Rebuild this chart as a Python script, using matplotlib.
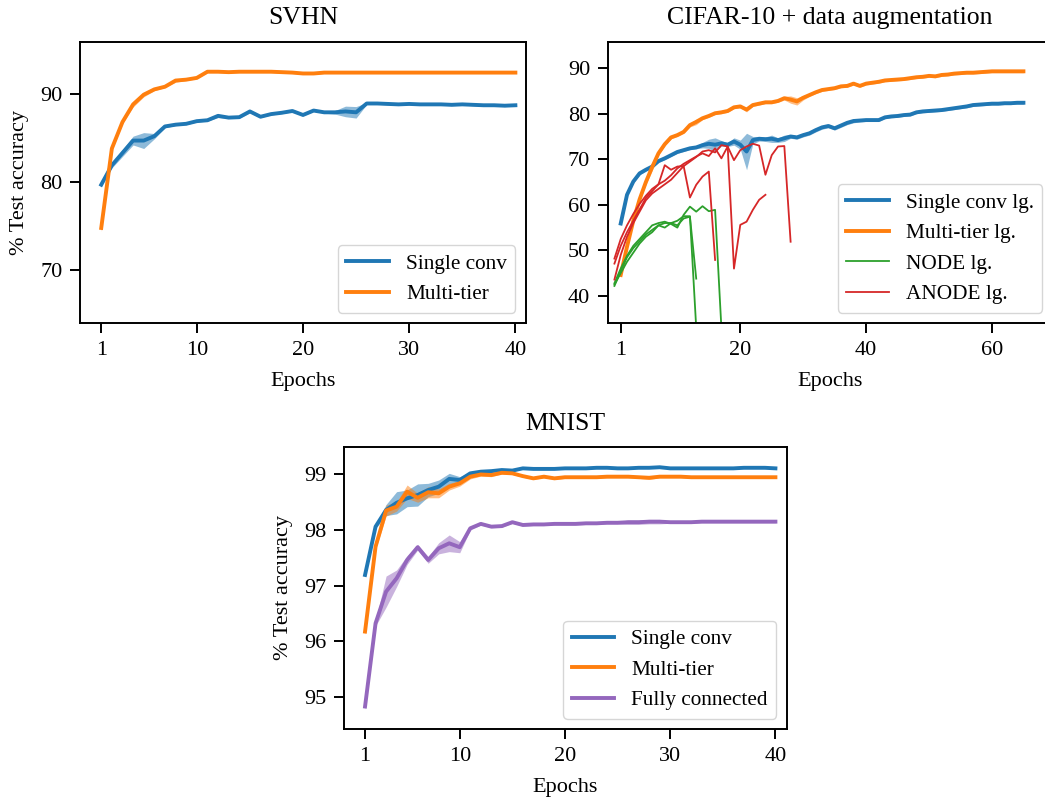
import matplotlib
matplotlib.use("Agg")
import matplotlib.pyplot as plt
import numpy as np

plt.rcParams['font.family'] = ['Liberation Serif', 'DejaVu Serif']
plt.rcParams['font.size'] = 15

# ---------------- data ----------------
svhn_epochs = list(range(1, 41))
svhn_single = [79.7, 81.9, 83.3, 84.7, 84.7, 85.2, 86.3, 86.5, 86.6, 86.9,
               87.0, 87.5, 87.3, 87.35, 88.0, 87.4, 87.7, 87.85, 88.05, 87.6,
               88.1, 87.9, 87.9, 88.0, 87.9, 88.9, 88.9, 88.85, 88.8, 88.85,
               88.8, 88.8, 88.8, 88.75, 88.8, 88.75, 88.7, 88.7, 88.65, 88.7]
svhn_single_std = [0.15, 0.3, 0.4, 0.5, 0.9, 0.3, 0.15, 0.1, 0.1, 0.1,
                   0.1, 0.2, 0.1, 0.1, 0.15, 0.1, 0.1, 0.1, 0.1, 0.1,
                   0.1, 0.1, 0.2, 0.6, 0.65, 0.1, 0.1, 0.1, 0.1, 0.1,
                   0.1, 0.1, 0.1, 0.1, 0.1, 0.1, 0.1, 0.1, 0.1, 0.1]
svhn_multi = [74.8, 83.8, 86.8, 88.8, 89.9, 90.5, 90.8, 91.5, 91.6, 91.8,
              92.5, 92.5, 92.45, 92.5, 92.5, 92.5, 92.5, 92.45, 92.4, 92.3,
              92.3, 92.4, 92.4, 92.4, 92.4, 92.4, 92.4, 92.4, 92.4, 92.4,
              92.4, 92.4, 92.4, 92.4, 92.4, 92.4, 92.4, 92.4, 92.4, 92.4]
svhn_multi_std = [0.4, 0.2, 0.2, 0.3, 0.25, 0.15, 0.1, 0.2, 0.1, 0.1,
                  0.1, 0.1, 0.1, 0.1, 0.1, 0.1, 0.1, 0.1, 0.1, 0.1,
                  0.1, 0.1, 0.1, 0.1, 0.1, 0.1, 0.1, 0.1, 0.1, 0.1,
                  0.1, 0.1, 0.1, 0.1, 0.1, 0.1, 0.1, 0.1, 0.1, 0.1]

cifar_epochs = list(range(1, 66))
cifar_single = [55.9, 62.2, 65.1, 66.9, 67.7, 68.4, 69.6, 70.2, 70.9, 71.6,
                72.0, 72.4, 72.6, 73.1, 73.4, 73.2, 73.5, 73.2, 73.9, 73.2,
                71.7, 74.2, 74.5, 74.4, 74.5, 74.2, 74.6, 75.0, 74.8, 75.3,
                75.7, 76.4, 77.0, 77.3, 76.8, 77.4, 78.0, 78.4, 78.5, 78.6,
                78.6, 78.6, 79.2, 79.4, 79.5, 79.7, 79.8, 80.3, 80.5, 80.6,
                80.7, 80.8, 81.0, 81.2, 81.4, 81.6, 81.9, 82.0, 82.1, 82.2,
                82.2, 82.3, 82.3, 82.4, 82.4]
cifar_single_std = [0.3, 0.3, 0.3, 0.3, 0.3, 0.3, 0.3, 0.3, 0.3, 0.3,
                    0.3, 0.3, 0.3, 0.6, 1.0, 1.5, 0.6, 0.4, 0.8, 1.0,
                    4.0, 0.8, 0.5, 0.5, 0.8, 0.5, 0.7, 0.4, 0.4, 0.4,
                    0.4, 0.4, 0.4, 0.4, 0.4, 0.4, 0.4, 0.4, 0.3, 0.3,
                    0.3, 0.3, 0.3, 0.3, 0.3, 0.3, 0.3, 0.3, 0.3, 0.3,
                    0.3, 0.3, 0.3, 0.3, 0.3, 0.3, 0.3, 0.3, 0.3, 0.3,
                    0.3, 0.3, 0.3, 0.3, 0.3]
cifar_multi = [44.6, 50.8, 56.5, 61.2, 65.0, 68.3, 71.3, 73.3, 74.8, 75.3,
               76.0, 77.5, 78.2, 79.0, 79.5, 80.1, 80.3, 80.6, 81.4, 81.6,
               80.9, 81.9, 82.2, 82.5, 82.5, 82.8, 83.4, 83.1, 82.7, 83.5,
               84.1, 84.7, 85.2, 85.4, 85.6, 86.0, 86.1, 86.6, 86.1, 86.6,
               86.8, 87.0, 87.3, 87.4, 87.5, 87.6, 87.8, 88.0, 88.1, 88.3,
               88.2, 88.5, 88.6, 88.8, 88.9, 89.0, 89.0, 89.1, 89.2, 89.3,
               89.3, 89.3, 89.3, 89.3, 89.3]
cifar_multi_std = [0.3, 0.3, 0.3, 0.3, 0.6, 0.8, 0.4, 0.3, 0.3, 0.3,
                   0.3, 0.4, 0.6, 0.3, 0.3, 0.3, 0.3, 0.3, 0.3, 0.3,
                   0.5, 0.3, 0.3, 0.3, 0.3, 0.3, 0.4, 0.8, 0.8, 0.5,
                   0.3, 0.3, 0.3, 0.3, 0.3, 0.3, 0.3, 0.3, 0.3, 0.3,
                   0.3, 0.3, 0.3, 0.3, 0.3, 0.3, 0.3, 0.3, 0.3, 0.3,
                   0.3, 0.3, 0.3, 0.3, 0.3, 0.3, 0.3, 0.3, 0.3, 0.3,
                   0.3, 0.3, 0.3, 0.3, 0.3]

# individual NODE / ANODE runs (start at epoch 0)
node_run1 = [42.2, 45.5, 48.5, 50.5, 52.0, 53.5, 54.5, 55.5, 56.0, 56.0,
             55.5, 57.0, 57.4, 43.8]
node_run2 = [42.5, 45.0, 47.5, 49.5, 51.5, 53.0, 54.0, 55.5, 55.0, 56.0,
             56.5, 57.5, 57.5, 33.0]
node_run3 = [42.8, 46.0, 48.8, 51.0, 52.5, 54.0, 55.5, 56.0, 56.3, 55.8,
             55.0, 57.8, 59.6, 58.5, 59.7, 58.6, 58.9, 33.0]
anode_run1 = [47.1, 51.0, 54.0, 56.5, 59.0, 61.5, 63.0, 64.5, 68.7, 67.7,
              68.4, 68.5, 61.6, 64.4, 66.2, 67.3, 47.9]
anode_run2 = [48.2, 52.5, 55.5, 58.0, 60.2, 62.0, 63.5, 64.5, 65.3, 66.5,
              68.0, 69.0, 69.8, 70.6, 71.3, 70.7, 72.4, 70.2, 72.8, 46.0,
              55.6, 56.3, 58.9, 61.1, 62.2]
anode_run3 = [43.6, 49.0, 53.0, 56.0, 58.5, 61.0, 62.5, 63.5, 64.5, 65.5,
              67.0, 68.5, 69.5, 70.5, 71.7, 72.0, 71.5, 73.1, 72.8, 69.8,
              72.0, 72.8, 73.4, 73.0, 66.6, 70.9, 72.8, 72.9, 51.9]
node_runs = [node_run1, node_run2, node_run3]
anode_runs = [anode_run1, anode_run2, anode_run3]

mnist_epochs = list(range(1, 41))
mnist_single = [97.19, 98.06, 98.36, 98.49, 98.57, 98.63, 98.72, 98.78, 98.92, 98.90,
                99.02, 99.05, 99.06, 99.08, 99.07, 99.11, 99.10, 99.10, 99.10, 99.11,
                99.11, 99.11, 99.12, 99.12, 99.11, 99.11, 99.12, 99.12, 99.13, 99.11,
                99.11, 99.11, 99.11, 99.11, 99.11, 99.11, 99.12, 99.12, 99.12, 99.11]
mnist_single_std = [0.02, 0.03, 0.1, 0.2, 0.15, 0.2, 0.12, 0.12, 0.1, 0.06,
                    0.02, 0.02, 0.02, 0.02, 0.02, 0.01, 0.01, 0.01, 0.01, 0.01,
                    0.01, 0.01, 0.01, 0.01, 0.01, 0.01, 0.01, 0.01, 0.01, 0.01,
                    0.01, 0.01, 0.01, 0.01, 0.01, 0.01, 0.01, 0.01, 0.01, 0.01]
mnist_multi = [96.17, 97.70, 98.35, 98.42, 98.69, 98.58, 98.68, 98.66, 98.78, 98.84,
               98.96, 99.00, 98.99, 99.03, 99.02, 98.97, 98.93, 98.96, 98.93, 98.95,
               98.95, 98.95, 98.95, 98.96, 98.96, 98.96, 98.95, 98.94, 98.96, 98.96,
               98.96, 98.95, 98.95, 98.95, 98.95, 98.95, 98.95, 98.95, 98.95, 98.95]
mnist_multi_std = [0.05, 0.05, 0.1, 0.08, 0.12, 0.08, 0.1, 0.08, 0.06, 0.05,
                   0.04, 0.03, 0.03, 0.02, 0.02, 0.02, 0.02, 0.02, 0.02, 0.02,
                   0.02, 0.02, 0.02, 0.02, 0.02, 0.02, 0.02, 0.03, 0.02, 0.02,
                   0.02, 0.02, 0.02, 0.02, 0.02, 0.02, 0.02, 0.02, 0.02, 0.02]
mnist_fc = [94.82, 96.32, 96.89, 97.13, 97.46, 97.69, 97.46, 97.67, 97.76, 97.69,
            98.03, 98.11, 98.06, 98.07, 98.14, 98.09, 98.10, 98.10, 98.11, 98.11,
            98.11, 98.12, 98.12, 98.13, 98.13, 98.14, 98.14, 98.15, 98.15, 98.14,
            98.14, 98.14, 98.15, 98.15, 98.15, 98.15, 98.15, 98.15, 98.15, 98.15]
mnist_fc_std = [0.05, 0.05, 0.28, 0.15, 0.08, 0.05, 0.06, 0.1, 0.15, 0.1,
                0.03, 0.02, 0.02, 0.02, 0.02, 0.02, 0.02, 0.02, 0.02, 0.02,
                0.02, 0.02, 0.02, 0.02, 0.02, 0.04, 0.04, 0.04, 0.04, 0.02,
                0.02, 0.02, 0.02, 0.02, 0.02, 0.02, 0.02, 0.02, 0.02, 0.02]

# ---------------- figure ----------------
W, H = 1045, 802
fig = plt.figure(figsize=(W / 100, H / 100), dpi=100)


def ax_at(l, t, r, b):
    return fig.add_axes([l / W, 1 - b / H, (r - l) / W, (b - t) / H])


ax1 = ax_at(80, 41.7, 526, 323.3)
ax2 = ax_at(607.5, 41.7, 1053, 323.3)
ax3 = ax_at(344, 446.7, 787, 729.3)

C0, C1, C2, C3, C4 = '#1f77b4', '#ff7f0e', '#2ca02c', '#d62728', '#9467bd'
LW = 2.8
THIN = 1.3
TICK_FS = 16
LABEL_FS = 16
TITLE_FS = 18.5
LEG_FS = 15.3


def band(ax, x, m, s, color, label):
    m = np.asarray(m)
    s = np.asarray(s)
    ax.fill_between(x, m - s, m + s, color=color, alpha=0.5, lw=0)
    ax.plot(x, m, color=color, lw=LW, label=label)


def style(ax):
    for sp in ax.spines.values():
        sp.set_linewidth(1.4)
    ax.tick_params(axis='both', which='major', length=7, width=1.4,
                   labelsize=TICK_FS)
    ax.tick_params(axis='x', pad=5.5)
    ax.tick_params(axis='y', pad=5.5)


# SVHN
band(ax1, svhn_epochs, svhn_single, svhn_single_std, C0, 'Single conv')
band(ax1, svhn_epochs, svhn_multi, svhn_multi_std, C1, 'Multi-tier')
ax1.set_xlim(-1, 41)
ax1.set_ylim(64.0, 95.9)
ax1.set_xticks([1, 10, 20, 30, 40])
ax1.set_yticks([70, 80, 90])
ax1.set_title('SVHN', fontsize=TITLE_FS, pad=13)
ax1.set_xlabel('Epochs', fontsize=LABEL_FS, labelpad=9)
ax1.set_ylabel('% Test accuracy', fontsize=LABEL_FS, labelpad=8)
ax1.legend(loc='lower right', fontsize=LEG_FS)
style(ax1)

# CIFAR-10
band(ax2, cifar_epochs, cifar_single, cifar_single_std, C0, 'Single conv lg.')
band(ax2, cifar_epochs, cifar_multi, cifar_multi_std, C1, 'Multi-tier lg.')
for i, run in enumerate(node_runs):
    ax2.plot(range(len(run)), run, color=C2, lw=THIN,
             label='NODE lg.' if i == 0 else None)
for i, run in enumerate(anode_runs):
    ax2.plot(range(len(run)), run, color=C3, lw=THIN,
             label='ANODE lg.' if i == 0 else None)
ax2.set_xlim(-1.1, 69.7)
ax2.set_ylim(34.0, 95.8)
ax2.set_xticks([1, 20, 40, 60])
ax2.set_yticks([40, 50, 60, 70, 80, 90])
ax2.set_title('CIFAR-10 + data augmentation', fontsize=TITLE_FS, pad=13)
ax2.set_xlabel('Epochs', fontsize=LABEL_FS, labelpad=9)
ax2.legend(loc='lower right', fontsize=LEG_FS)
style(ax2)

# MNIST
band(ax3, mnist_epochs, mnist_single, mnist_single_std, C0, 'Single conv')
band(ax3, mnist_epochs, mnist_multi, mnist_multi_std, C1, 'Multi-tier')
band(ax3, mnist_epochs, mnist_fc, mnist_fc_std, C4, 'Fully connected')
ax3.set_xlim(-1, 41.1)
ax3.set_ylim(94.41, 99.5)
ax3.set_xticks([1, 10, 20, 30, 40])
ax3.set_yticks([95, 96, 97, 98, 99])
ax3.set_title('MNIST', fontsize=TITLE_FS, pad=12)
ax3.set_xlabel('Epochs', fontsize=LABEL_FS, labelpad=9)
ax3.set_ylabel('% Test accuracy', fontsize=LABEL_FS, labelpad=8)
ax3.legend(loc='lower right', fontsize=LEG_FS)
style(ax3)

fig.savefig('out.png', dpi=100)
